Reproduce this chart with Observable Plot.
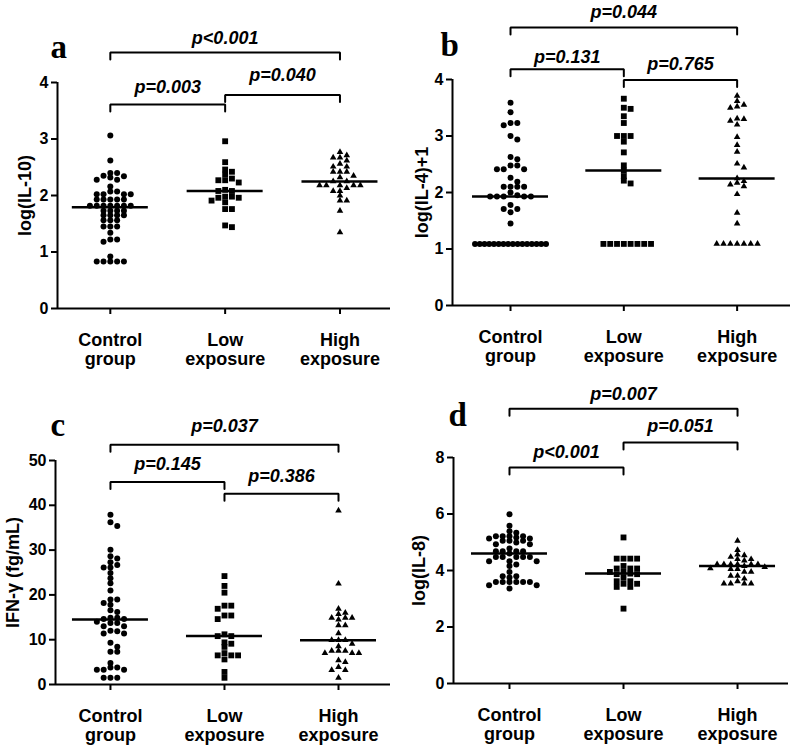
<!DOCTYPE html>
<html>
<head>
<meta charset="utf-8">
<script src="https://cdn.jsdelivr.net/npm/d3@7"></script>
<script src="https://cdn.jsdelivr.net/npm/@observablehq/plot@0.6"></script>
<style>
  html, body { margin: 0; padding: 0; background: #fff; overflow: hidden; }
  #root { position: relative; width: 799px; height: 750px; background: #fff; }
  #root > div { position: absolute; }
</style>
</head>
<body>
<div id="root"></div>
<script>
// ---------- categories ----------
const groups = ["Control\ngroup", "Low\nexposure", "High\nexposure"];

// ---------- panel a : log(IL-10) ----------
const il10Control = [3.06, 2.62, 2.40, 2.40, 2.35, 2.34, 2.32, 2.28, 2.28, 2.16, 2.07, 2.07, 2.02, 2.02, 2.02, 2.02,
  1.93, 1.93, 1.93, 1.93, 1.93, 1.82, 1.82, 1.82, 1.82, 1.82, 1.82, 1.82, 1.73, 1.73, 1.73, 1.73,
  1.65, 1.65, 1.65, 1.65, 1.56, 1.56, 1.56, 1.45, 1.45, 1.45, 1.34, 1.22, 1.22, 1.18, 0.92,
  0.83, 0.83, 0.83, 0.83, 0.83];
const il10Low = [2.96, 2.59, 2.46, 2.42, 2.37, 2.30, 2.27, 2.27, 2.23, 2.10, 2.08, 2.08, 1.98, 1.98, 1.96, 1.96,
  1.91, 1.88, 1.76, 1.76, 1.47, 1.44];
const il10High = [2.77, 2.71, 2.67, 2.67, 2.62, 2.56, 2.51, 2.51, 2.42, 2.42, 2.42, 2.35, 2.32, 2.25, 2.25,
  2.18, 2.18, 2.18, 2.18, 2.18, 2.13, 2.08, 2.08, 2.00, 1.91, 1.91, 1.73, 1.35];
const il10Median = [1.79, 2.08, 2.25];
const il10PFrom = [0, 1, 0];
const il10PTo = [1, 2, 2];
const il10PLevel = [3.61, 3.78, 4.53];
const il10PLabelY = [3.81, 4.02, 4.69];
const il10PText = ["p=0.003", "p=0.040", "p<0.001"];
const il10Ticks = [0, 1, 2, 3, 4];

// ---------- panel b : log(IL-4)+1 ----------
const il4Control = [3.59, 3.42, 3.23, 3.23, 3.19, 3.00, 2.94, 2.63, 2.59, 2.48, 2.48, 2.41, 2.41, 2.41, 2.26, 2.19,
  2.10, 2.10, 2.10, 2.10, 2.00, 1.95, 1.93, 1.93, 1.93, 1.93, 1.93, 1.78, 1.71, 1.71, 1.65, 1.45,
  1.09, 1.09, 1.09, 1.09, 1.09, 1.09, 1.09, 1.09, 1.09, 1.09, 1.09, 1.09, 1.09, 1.09, 1.09, 1.09];
const il4Low = [3.66, 3.50, 3.48, 3.35, 3.23, 3.00, 3.00, 3.00, 2.90, 2.71, 2.48, 2.39, 2.29, 2.21, 2.16,
  1.09, 1.09, 1.09, 1.09, 1.09, 1.09, 1.09, 1.09];
const il4High = [3.71, 3.62, 3.55, 3.52, 3.50, 3.31, 3.30, 3.27, 3.20, 2.98, 2.84, 2.72, 2.51, 2.44, 2.25,
  2.20, 2.17, 2.14, 2.11, 1.97, 1.64, 1.45, 1.09, 1.09, 1.09, 1.09, 1.09, 1.09, 1.09];
const il4Median = [1.93, 2.39, 2.25];
const il4PFrom = [0, 1, 0];
const il4PTo = [1, 2, 2];
const il4PLevel = [4.18, 3.99, 4.92];
const il4PLabelY = [4.29, 4.17, 5.08];
const il4PText = ["p=0.131", "p=0.765", "p=0.044"];
const il4Ticks = [0, 1, 2, 3, 4];

// ---------- panel c : IFN-γ (fg/mL) ----------
const ifnControl = [37.9, 36.2, 35.4, 30.1, 28.6, 28.1, 27.3, 26.7, 26.1, 26.1, 24.9, 23.7, 22.6, 21.0, 19.0, 19.0,
  18.2, 17.8, 16.6, 16.2, 14.9, 14.9, 14.6, 14.6, 14.0, 13.7, 13.7, 13.0, 13.0, 12.0, 11.9, 11.4, 11.4,
  9.3, 8.4, 7.3, 7.3, 4.8, 3.8, 3.8, 3.3, 3.3, 3.3, 1.5, 1.5, 1.5];
const ifnLow = [24.2, 22.0, 20.5, 17.6, 17.6, 16.9, 15.4, 15.4, 14.6, 11.2, 10.8, 10.8, 9.4, 9.1, 8.4, 7.0,
  6.5, 6.5, 6.5, 5.6, 2.8, 1.5];
const ifnHigh = [38.8, 22.5, 16.9, 16.0, 15.7, 14.9, 14.9, 14.9, 14.5, 13.2, 13.2, 11.4, 9.9, 9.9, 9.9, 9.1, 8.5,
  7.5, 7.5, 7.5, 7.0, 7.0, 7.0, 5.4, 5.0, 3.9, 3.2, 3.2, 1.5];
const ifnMedian = [14.5, 10.8, 9.9];
const ifnPFrom = [0, 1, 0];
const ifnPTo = [1, 2, 2];
const ifnPLevel = [45.2, 42.6, 53.5];
const ifnPLabelY = [47.9, 45.2, 56.3];
const ifnPText = ["p=0.145", "p=0.386", "p=0.037"];
const ifnTicks = [0, 10, 20, 30, 40, 50];

// ---------- panel d : log(IL-8) ----------
const il8Control = [5.99, 5.58, 5.39, 5.34, 5.21, 5.21, 5.21, 5.21, 5.17, 5.13, 5.13, 5.05, 5.05, 5.05, 4.99, 4.93,
  4.93, 4.78, 4.68, 4.68, 4.68, 4.68, 4.60, 4.48, 4.48, 4.48, 4.48, 4.48, 4.33, 4.33, 4.33, 4.21, 4.16,
  3.95, 3.80, 3.80, 3.75, 3.59, 3.59, 3.59, 3.59, 3.59, 3.59, 3.48, 3.48, 3.36];
const il8Low = [5.17, 4.42, 4.42, 4.42, 4.42, 4.16, 4.07, 4.07, 4.07, 3.95, 3.95, 3.89, 3.87, 3.87, 3.74, 3.62,
  3.62, 3.53, 3.53, 3.42, 3.42, 2.65];
const il8High = [5.05, 4.72, 4.56, 4.54, 4.48, 4.40, 4.40, 4.35, 4.22, 4.22, 4.22, 4.22, 4.22, 4.22, 4.16, 4.12,
  4.08, 4.05, 4.05, 3.95, 3.95, 3.81, 3.81, 3.71, 3.62, 3.54, 3.54, 3.54, 3.54];
const il8Median = [4.60, 3.89, 4.16];
const il8PFrom = [0, 1, 0];
const il8PTo = [1, 2, 2];
const il8PLevel = [7.65, 8.53, 9.73];
const il8PLabelY = [8.00, 8.91, 10.03];
const il8PText = ["p<0.001", "p=0.051", "p=0.007"];
const il8Ticks = [0, 2, 4, 6, 8];

// ---------- layout (pixels, not data) ----------
const SANS = "'Liberation Sans', Arial, Helvetica, sans-serif";
const SERIF = "'Liberation Serif', 'Times New Roman', serif";

const panels = [
  { letter: "a", yLabel: "log(IL-10)", values: [il10Control, il10Low, il10High], median: il10Median,
    pFrom: il10PFrom, pTo: il10PTo, pLevel: il10PLevel, pLabelY: il10PLabelY, pText: il10PText,
    ticks: il10Ticks, yMax: 4,
    L: { left: 0, top: 0, width: 400, height: 375, ml: 57, mr: 10, mt: 82, mb: 67, xd: [-0.46, 2.44],
         labelDx: -32, letterDx: -7, letterDy: -25 } },
  { letter: "b", yLabel: "log(IL-4)+1", values: [il4Control, il4Low, il4High], median: il4Median,
    pFrom: il4PFrom, pTo: il4PTo, pLevel: il4PLevel, pLabelY: il4PLabelY, pText: il4PText,
    ticks: il4Ticks, yMax: 4,
    L: { left: 400, top: 0, width: 399, height: 375, ml: 52, mr: 9, mt: 79, mb: 70, xd: [-0.512, 2.471],
         labelDx: -30, letterDx: -12, letterDy: -24 } },
  { letter: "c", yLabel: "IFN-γ (fg/mL)", values: [ifnControl, ifnLow, ifnHigh], median: ifnMedian,
    pFrom: ifnPFrom, pTo: ifnPTo, pLevel: ifnPLevel, pLabelY: ifnPLabelY, pText: ifnPText,
    ticks: ifnTicks, yMax: 50,
    L: { left: 0, top: 375, width: 400, height: 375, ml: 55, mr: 10, mt: 85, mb: 66, xd: [-0.482, 2.456],
         labelDx: -42, letterDx: -5, letterDy: -25 } },
  { letter: "d", yLabel: "log(IL-8)", values: [il8Control, il8Low, il8High], median: il8Median,
    pFrom: il8PFrom, pTo: il8PTo, pLevel: il8PLevel, pLabelY: il8PLabelY, pText: il8PText,
    ticks: il8Ticks, yMax: 8,
    L: { left: 400, top: 375, width: 399, height: 375, ml: 53, mr: 11, mt: 82, mb: 67, xd: [-0.491, 2.447],
         labelDx: -34, letterDx: -5, letterDy: -32 } }
];

// Scatter-dot layout (GraphPad style): greedy placement nearest the column centre,
// rectangular collision so that neighbouring rows can sit close together.
function swarm(values, xPx, yPx, pitch, rowH, maxW) {
  const vals = values.slice().sort((a, b) => b - a);
  const placed = [];
  const out = [];
  const minDx = pitch * 0.92;
  let i = 0;
  while (i < vals.length) {
    let j = i;
    while (j < vals.length && vals[j] === vals[i]) j++;
    const n = j - i;
    if ((n - 1) * pitch > maxW) {
      const step = maxW / (n - 1);
      for (let k = 0; k < n; k++) {
        const px = (k - (n - 1) / 2) * step;
        placed.push({ px, py: vals[i] * yPx });
        out.push({ v: vals[i], off: px / xPx });
      }
    } else {
      for (let k = i; k < j; k++) {
        const py = vals[k] * yPx;
        let best = 0;
        for (let m = 0; m < 400; m++) {
          const c = (m % 2 ? 1 : -1) * Math.ceil(m / 2) * pitch / 2;
          if (placed.every(q => Math.abs(q.px - c) >= minDx || Math.abs(q.py - py) >= rowH)) { best = c; break; }
        }
        placed.push({ px: best, py });
        out.push({ v: vals[k], off: best / xPx });
      }
    }
    i = j;
  }
  return out;
}

const symbols = ["circle", "square", "triangle"];
const radii = [3.0, 3.3, 2.45];

function makePanel(P) {
  const L = P.L;
  const xPx = (L.width - L.ml - L.mr) / (L.xd[1] - L.xd[0]);
  const yPx = (L.height - L.mt - L.mb) / P.yMax;
  const pts = P.values.flatMap((vals, g) =>
    swarm(vals, xPx, yPx, 6.8, 4.3, 71).map(d => ({ g, x: g + d.off, y: d.v })));

  const halfW = 38 / xPx;
  const drop = 7 / yPx;
  const medians = P.median.map((m, g) => ({ g, m }));
  const brackets = P.pText.map((t, i) => ({ i, from: P.pFrom[i], to: P.pTo[i], level: P.pLevel[i], ly: P.pLabelY[i], t }));
  const bracketPath = brackets.flatMap(b => [
    { id: b.i, x: b.from, y: b.level - drop },
    { id: b.i, x: b.from, y: b.level },
    { id: b.i, x: b.to, y: b.level },
    { id: b.i, x: b.to, y: b.level - drop }
  ]);

  return Plot.plot({
    width: L.width, height: L.height,
    marginLeft: L.ml, marginRight: L.mr, marginTop: L.mt, marginBottom: L.mb,
    x: { domain: L.xd },
    y: { domain: [0, P.yMax] },
    style: { fontFamily: SANS, color: "#000", background: "#fff", overflow: "visible" },
    marks: [
      ...symbols.map((s, g) => Plot.dot(pts.filter(d => d.g === g),
        { x: "x", y: "y", r: radii[g], symbol: s, fill: "#000", stroke: "none" })),
      Plot.ruleY(medians, { x1: d => d.g - halfW, x2: d => d.g + halfW, y: "m", stroke: "#000", strokeWidth: 2.5 }),
      Plot.ruleX([L.xd[0]], { y1: 0, y2: P.yMax, stroke: "#000", strokeWidth: 2 }),
      Plot.ruleY([0], { x1: L.xd[0], x2: L.xd[1], stroke: "#000", strokeWidth: 2 }),
      Plot.axisY({ ticks: P.ticks, tickSize: 6, tickPadding: 3, fontSize: 16, fontWeight: "bold",
        strokeWidth: 2, label: null, tickFormat: d => String(d) }),
      Plot.axisX({ ticks: [0, 1, 2], tickFormat: i => groups[i], tickSize: 6, tickPadding: 17,
        fontSize: 18, fontWeight: "bold", lineHeight: 1.1, strokeWidth: 2, label: null }),
      Plot.line(bracketPath, { x: "x", y: "y", z: "id", stroke: "#000", strokeWidth: 2,
        strokeLinejoin: "miter", curve: "linear" }),
      Plot.text(brackets, { x: d => (d.from + d.to) / 2, y: "ly", text: "t", fontSize: 18,
        fontWeight: "bold", fontStyle: "italic", textAnchor: "middle", lineAnchor: "bottom", fill: "#000" }),
      Plot.text([P.yLabel], { text: d => d, frameAnchor: "left", rotate: -90, dx: L.labelDx,
        fontSize: 18, fontWeight: "bold", textAnchor: "middle", lineAnchor: "middle", fill: "#000" }),
      Plot.text([P.letter], { text: d => d, frameAnchor: "top-left", dx: L.letterDx, dy: L.letterDy,
        textAnchor: "start", lineAnchor: "bottom", fontFamily: SERIF, fontSize: 33, fontWeight: "bold", fill: "#000" })
    ]
  });
}

const root = document.getElementById("root");
for (const P of panels) {
  const div = document.createElement("div");
  div.style.left = P.L.left + "px";
  div.style.top = P.L.top + "px";
  div.appendChild(makePanel(P));
  root.appendChild(div);
}
</script>
</body>
</html>
